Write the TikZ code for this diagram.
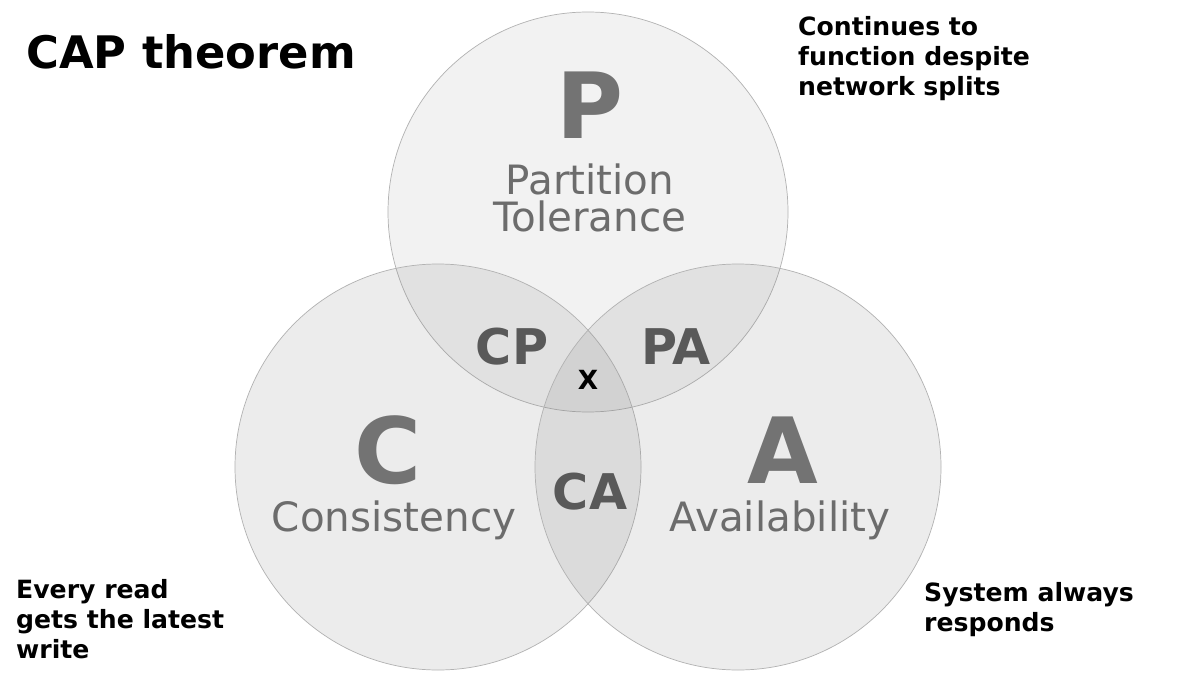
\documentclass[tikz,border=0pt]{standalone}
\usepackage{fontspec}
\setmainfont{DejaVu Sans}
\begin{document}
\begin{tikzpicture}[x=0.02cm, y=-0.02cm,
  circ/.style={draw=gray!60, line width=0.4pt, fill=gray, fill opacity=0.1},
  big/.style={text=gray!90!black, font=\bfseries\fontsize{52}{58}\selectfont},
  propname/.style={text=gray!85!black, font=\fontsize{23}{25}\selectfont, align=center},
  pair/.style={text=gray!70!black, font=\bfseries\fontsize{28}{30}\selectfont},
  note/.style={font=\bfseries\fontsize{14.3}{17}\selectfont, align=left, anchor=north west}]
  \useasboundingbox (0,0) rectangle (1189,689);
  \fill[white] (0,0) rectangle (1189,689);
  \draw[circ] (588,212) circle (200);
  \draw[circ, fill opacity=0.15] (438,467) circle (203);
  \draw[circ, fill opacity=0.15] (738,467) circle (203);
  \node[anchor=west, font=\bfseries\fontsize{25.5}{30}\selectfont] (title) at (20,52) {CAP theorem};
  \node[big] (p) at (590,105) {P};
  \node[propname] (pt) at (590,198) {Partition\\[-4pt]Tolerance};
  \node[big] (c) at (388,450) {C};
  \node[propname] (cn) at (394,520) {Consistency};
  \node[big] (a) at (783,450) {A};
  \node[propname] (an) at (780,520) {Availability};
  \node[pair] (cp) at (512,347) {CP};
  \node[pair] (pa) at (676,347) {PA};
  \node[pair] (ca) at (590,492) {CA};
  \node[font=\bfseries\fontsize{15}{17}\selectfont] (x) at (588,380) {X};
  \node[note] (np) at (792,10) {Continues to\\function despite\\network splits};
  \node[note] (nc) at (10,573) {Every read\\gets the latest\\write};
  \node[note] (na) at (918,576) {System always\\responds};
\end{tikzpicture}
\end{document}
